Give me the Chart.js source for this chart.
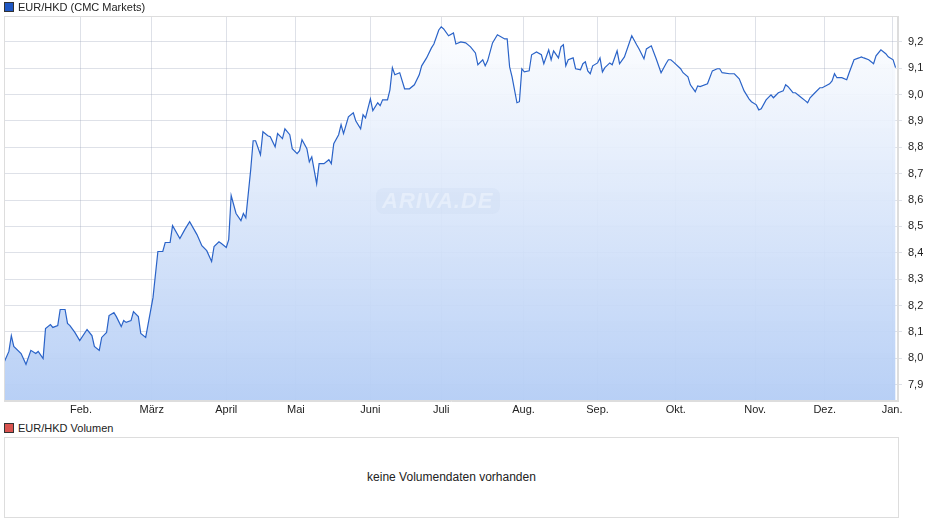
<!DOCTYPE html>
<html>
<head>
<meta charset="utf-8">
<script src="https://cdn.jsdelivr.net/npm/chart.js@4"></script>
<style>
  body { margin: 0; background: #fff; font-family: "Liberation Sans", Arial, sans-serif; font-size: 11px; color: #222; }
  .wrap { position: relative; width: 940px; height: 526px; }
  .legend { position: absolute; left: 4px; font-size: 11px; line-height: 12px; }
  .legend i { display: inline-block; width: 8px; height: 8px; border: 1px solid #333; margin-right: 4px; vertical-align: -1px; }
  #main { position: absolute; left: 0; top: 0; }
  .vol { position: absolute; left: 4px; top: 437px; width: 893px; height: 79px; border: 1px solid #ddd; text-align: center; line-height: 79px; font-size: 12px; }
  .mark { position: absolute; left: 376px; top: 188px; padding: 0 6px; border-radius: 8px; background: rgba(200,215,240,0.25); font: italic bold 22px "Liberation Sans", Arial, sans-serif; color: rgba(255,255,255,0.35); letter-spacing: 1px; }
</style>
</head>
<body>
<div class="wrap">
  <canvas id="main" width="940" height="418"></canvas>
  <div class="mark">ARIVA.DE</div>
  <div class="legend" style="top:1px"><i style="background:#1f57c3"></i>EUR/HKD (CMC Markets)</div>
  <div class="legend" style="top:422px"><i style="background:#d9534f"></i>EUR/HKD Volumen</div>
  <div class="vol">keine Volumendaten vorhanden</div>
</div>
<script>
// Tag im Jahr (0 = 1. Jan.)
var days = [0,2,3,4,7,9,11,13,14,16,17,19,20,22,23,25,26,27,29,31,34,36,37,39,40,42,43,45,46,48,49,50,52,53,55,56,58,61,63,65,66,68,69,72,74,76,79,81,83,85,86,88,89,91,92,93,95,97,98,99,101,102,103,105,106,108,109,111,112,114,115,117,118,120,121,122,124,125,126,128,129,131,133,134,135,137,138,139,141,143,144,146,147,148,150,151,153,154,155,157,158,159,160,162,164,166,168,170,171,173,175,176,178,179,180,182,184,185,187,189,191,193,194,196,197,198,200,202,205,206,207,208,210,211,212,213,215,216,218,220,221,223,224,225,227,228,229,230,231,233,234,236,237,238,239,240,241,243,244,245,246,248,249,251,252,254,257,259,260,262,263,265,267,269,271,272,273,274,277,278,280,281,283,284,285,288,290,292,293,294,297,299,301,303,305,306,308,309,310,312,314,315,317,319,320,321,323,324,326,328,329,330,332,334,335,338,339,340,341,343,345,346,348,350,351,352,354,356,357,359,361,362,364,365];
var kurs = [7.984,8.026,8.086,8.045,8.018,7.977,8.030,8.018,8.026,7.999,8.113,8.128,8.117,8.124,8.185,8.185,8.132,8.124,8.098,8.067,8.109,8.086,8.045,8.030,8.079,8.098,8.162,8.173,8.158,8.120,8.143,8.136,8.143,8.177,8.158,8.094,8.079,8.230,8.405,8.405,8.439,8.439,8.503,8.454,8.488,8.518,8.469,8.427,8.408,8.367,8.424,8.442,8.435,8.420,8.450,8.617,8.549,8.522,8.549,8.533,8.715,8.825,8.825,8.772,8.859,8.844,8.840,8.802,8.852,8.833,8.870,8.848,8.795,8.776,8.787,8.829,8.795,8.745,8.764,8.662,8.738,8.738,8.753,8.738,8.814,8.848,8.886,8.852,8.916,8.931,8.901,8.870,8.924,8.912,8.984,8.939,8.969,8.958,8.980,8.980,9.018,9.102,9.075,9.083,9.022,9.022,9.037,9.075,9.109,9.139,9.177,9.192,9.245,9.257,9.249,9.223,9.234,9.192,9.200,9.196,9.181,9.158,9.113,9.132,9.109,9.128,9.196,9.227,9.211,9.211,9.105,9.067,8.969,8.973,9.098,9.086,9.090,9.151,9.162,9.151,9.117,9.170,9.132,9.166,9.139,9.181,9.189,9.109,9.132,9.139,9.098,9.094,9.117,9.124,9.090,9.079,9.109,9.120,9.139,9.086,9.102,9.120,9.113,9.166,9.117,9.143,9.223,9.189,9.173,9.136,9.173,9.185,9.136,9.083,9.117,9.132,9.132,9.124,9.098,9.083,9.067,9.037,9.011,9.033,9.030,9.041,9.090,9.098,9.098,9.083,9.079,9.079,9.060,9.014,8.984,8.973,8.961,8.942,8.946,8.980,8.999,8.988,9.007,9.014,9.037,9.030,9.007,9.007,8.992,8.977,8.969,8.988,9.007,9.026,9.026,9.041,9.052,9.079,9.064,9.064,9.056,9.083,9.132,9.139,9.143,9.139,9.132,9.117,9.147,9.170,9.155,9.143,9.132,9.102];
// Lage der Monatswechsel auf der Zeitachse
var monatTage = [31.5,60.5,91,119.5,150,179,212.7,243,275,307.5,336,363.6];
var monatNamen = ['Feb.','März','April','Mai','Juni','Juli','Aug.','Sep.','Okt.','Nov.','Dez.','Jan.'];
var yTicks = [7.9,8.0,8.1,8.2,8.3,8.4,8.5,8.6,8.7,8.8,8.9,9.0,9.1,9.2];

var points = days.map(function(d, i) { return { x: d, y: kurs[i] }; });

new Chart(document.getElementById('main'), {
    type: 'line',
    data: {
        datasets: [{
            data: points,
            borderColor: '#2a63c8',
            borderWidth: 1.2,
            pointRadius: 0,
            tension: 0,
            fill: 'start',
            backgroundColor: function(context) {
                var area = context.chart.chartArea;
                if (!area) return 'rgba(190,210,245,0.6)';
                var g = context.chart.ctx.createLinearGradient(0, area.top, 0, area.bottom);
                g.addColorStop(0, 'rgba(255,255,255,0.9)');
                g.addColorStop(1, 'rgba(180,205,245,0.95)');
                return g;
            }
        }]
    },
    options: {
        responsive: false,
        animation: false,
        layout: { padding: { left: 4, top: 16, right: 0, bottom: 0 } },
        plugins: { legend: { display: false }, tooltip: { enabled: false } },
        scales: {
            x: {
                type: 'linear',
                min: 0,
                max: 366,
                afterFit: function(scale) { scale.height = 17; },
                afterBuildTicks: function(scale) {
                    scale.ticks = monatTage.map(function(v) { return { value: v }; });
                },
                ticks: {
                    autoSkip: false,
                    maxRotation: 0,
                    padding: 2,
                    color: '#222',
                    font: { family: 'Liberation Sans', size: 11 },
                    callback: function(value) {
                        var i = monatTage.indexOf(value);
                        return i >= 0 ? monatNamen[i] : '';
                    }
                },
                grid: { color: 'rgba(160,170,190,0.35)', drawTicks: false },
                border: { color: '#ddd' }
            },
            y: {
                position: 'right',
                min: 7.838,
                max: 9.298,
                afterFit: function(scale) { scale.width = 42; },
                afterBuildTicks: function(scale) {
                    scale.ticks = yTicks.map(function(v) { return { value: v }; });
                },
                ticks: {
                    padding: 6,
                    color: '#222',
                    font: { family: 'Liberation Sans', size: 11 },
                    callback: function(value) { return value.toFixed(1).replace('.', ','); }
                },
                grid: { color: 'rgba(160,170,190,0.35)', tickLength: 4 },
                border: { color: '#ddd' }
            }
        }
    },
    plugins: [{
        id: 'rahmen',
        afterDraw: function(chart) {
            var a = chart.chartArea, c = chart.ctx;
            c.save();
            c.strokeStyle = '#ddd';
            c.lineWidth = 1;
            c.strokeRect(a.left + 0.5, a.top + 0.5, a.right - a.left - 1, a.bottom - a.top - 1);
            c.restore();
        }
    }]
});
</script>
</body>
</html>
